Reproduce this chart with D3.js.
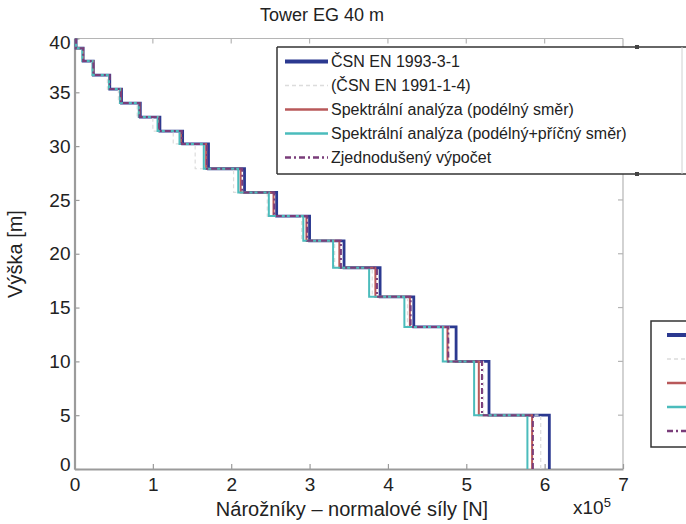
<!DOCTYPE html>
<html><head><meta charset="utf-8">
<script src="https://cdn.jsdelivr.net/npm/d3@7"></script>
<style>
html,body{margin:0;padding:0;background:#fff;}
svg{display:block;font-family:"Liberation Sans",Arial,sans-serif;}
</style></head>
<body>
<svg id="c" width="686" height="524"></svg>
<script>
// Height boundaries of the tower segments [m], bottom to top
const heights = [0, 5, 10, 13.2, 16.0, 18.7, 21.2, 23.5, 25.7, 27.9, 30.2, 31.4, 32.7, 34.0, 35.3, 36.6, 37.9, 39.1, 40];
// Segment values (x10^5 N), bottom segment first
const csn1993 = [6.06, 5.29, 4.87, 4.33, 3.90, 3.44, 3.00, 2.58, 2.17, 1.71, 1.38, 1.09, 0.84, 0.60, 0.45, 0.24, 0.11, 0.02];
const csn1991 = [5.95, 5.22, 4.78, 4.25, 3.80, 3.32, 2.90, 2.46, 2.03, 1.54, 1.26, 1.00, 0.80, 0.56, 0.42, 0.22, 0.10, 0.02];
const spektralPodelny = [5.84, 5.16, 4.76, 4.28, 3.84, 3.38, 2.96, 2.54, 2.12, 1.68, 1.36, 1.07, 0.83, 0.59, 0.44, 0.24, 0.11, 0.02];
const spektralPricny = [5.78, 5.10, 4.70, 4.21, 3.76, 3.30, 2.92, 2.48, 2.09, 1.65, 1.34, 1.06, 0.82, 0.58, 0.44, 0.23, 0.10, 0.02];
const zjednoduseny = [5.85, 5.20, 4.77, 4.29, 3.86, 3.40, 2.97, 2.55, 2.14, 1.69, 1.37, 1.08, 0.83, 0.59, 0.45, 0.24, 0.11, 0.02];
const legendLabels = ["ČSN EN 1993-3-1", "(ČSN EN 1991-1-4)", "Spektrální analýza (podélný směr)", "Spektrální analýza (podélný+příčný směr)", "Zjednodušený výpočet"];
const xTicks = [0, 1, 2, 3, 4, 5, 6, 7];
const yTicks = [0, 5, 10, 15, 20, 25, 30, 35, 40];
const titleText = "Tower EG 40 m";
const xLabel = "Nárožníky – normalové síly [N]";
const yLabel = "Výška [m]";

const series = [
  {vals: csn1993, color: "#2b3990", w: 2.8, dash: null},
  {vals: csn1991, color: "#dcdcdc", w: 1.2, dash: "4,3"},
  {vals: spektralPodelny, color: "#b8585a", w: 2, dash: null},
  {vals: spektralPricny, color: "#4bbcbc", w: 2, dash: null},
  {vals: zjednoduseny, color: "#7a3d7a", w: 2, dash: "6,3,2,3"}
];

const svg = d3.select("#c");
const x = d3.scaleLinear().domain([0, 7]).range([74.5, 623]);
const y = d3.scaleLinear().domain([0, 40]).range([469, 38.5]);
const axisColor = "#9b9b9b";
const textColor = "#222";

// top & right frame
svg.append("line").attr("x1", x(0)).attr("x2", x(7)).attr("y1", y(40)).attr("y2", y(40)).attr("stroke", "#b5b5b5").attr("stroke-width", 1.2);
svg.append("line").attr("x1", x(7)).attr("x2", x(7)).attr("y1", y(40)).attr("y2", y(0)).attr("stroke", "#b5b5b5").attr("stroke-width", 1.2);
// top/right ticks
svg.append("g").selectAll("line").data(xTicks.slice(1, -1)).join("line")
  .attr("x1", d => x(d)).attr("x2", d => x(d)).attr("y1", y(40)).attr("y2", y(40) + 5)
  .attr("stroke", "#b5b5b5").attr("stroke-width", 1.2);
svg.append("g").selectAll("line").data(yTicks.slice(1, -1)).join("line")
  .attr("x1", x(7)).attr("x2", x(7) - 5).attr("y1", d => y(d)).attr("y2", d => y(d))
  .attr("stroke", "#b5b5b5").attr("stroke-width", 1.2);

// axes
const gx = svg.append("g").attr("transform", `translate(0,${y(0)})`)
  .call(d3.axisBottom(x).tickValues(xTicks).tickSizeInner(-5).tickSizeOuter(0).tickPadding(9).tickFormat(d3.format("d")));
const gy = svg.append("g").attr("transform", `translate(${x(0)},0)`)
  .call(d3.axisLeft(y).tickValues(yTicks).tickSizeInner(-5).tickSizeOuter(0).tickPadding(4).tickFormat(d3.format("d")));
[gx, gy].forEach(g => {
  g.select(".domain").attr("stroke", axisColor).attr("stroke-width", 2.2);
  g.selectAll(".tick line").attr("stroke", axisColor).attr("stroke-width", 1.2);
  g.selectAll(".tick text").attr("fill", textColor).style("font-size", "19px").style("font-family", "Liberation Sans, Arial, sans-serif");
});
gy.selectAll(".tick text").attr("dy", d => d === 0 ? "0.1em" : (d === 40 ? "0.5em" : "0.32em"));

// step lines
const line = d3.line().x(d => x(d[0])).y(d => y(d[1]));
function stepPoints(vals) {
  const pts = [];
  for (let i = 0; i < vals.length; i++) {
    pts.push([vals[i], heights[i]]);
    pts.push([vals[i], heights[i + 1]]);
  }
  return pts;
}
series.forEach(s => {
  svg.append("path").attr("d", line(stepPoints(s.vals)))
    .attr("fill", "none").attr("stroke", s.color).attr("stroke-width", s.w)
    .attr("stroke-dasharray", s.dash).attr("stroke-linejoin", "miter");
});

// Legend 1
const lg = svg.append("g");
lg.append("rect").attr("x", 277).attr("y", 47).attr("width", 405).attr("height", 127).attr("fill", "#fff").attr("stroke", "none");
lg.append("line").attr("x1", 277).attr("x2", 686).attr("y1", 47).attr("y2", 47).attr("stroke", "#333").attr("stroke-width", 1.5);
lg.append("line").attr("x1", 277).attr("x2", 686).attr("y1", 174).attr("y2", 174).attr("stroke", "#333").attr("stroke-width", 1.5);
lg.append("line").attr("x1", 277).attr("x2", 277).attr("y1", 47).attr("y2", 174).attr("stroke", "#333").attr("stroke-width", 1.5);
lg.append("line").attr("x1", 682).attr("x2", 682).attr("y1", 47).attr("y2", 174).attr("stroke", "#d0d0d0").attr("stroke-width", 1);
lg.append("rect").attr("x", 635).attr("y", 45).attr("width", 4).attr("height", 4).attr("fill", "#444");
lg.append("rect").attr("x", 635).attr("y", 172).attr("width", 4).attr("height", 4).attr("fill", "#444");
series.forEach((s, i) => {
  const yy = 61.5 + 24 * i;
  lg.append("line").attr("x1", 285).attr("x2", 328).attr("y1", yy).attr("y2", yy)
    .attr("stroke", s.color).attr("stroke-width", i === 0 ? 4 : s.w + 0.5).attr("stroke-dasharray", s.dash);
  lg.append("text").attr("x", 331).attr("y", yy).attr("dy", "0.36em").attr("fill", textColor)
    .style("font-size", "16px").text(legendLabels[i]);
});

// Legend 2 (partially visible at right edge)
const lg2 = svg.append("g");
lg2.append("rect").attr("x", 651).attr("y", 321).attr("width", 60).attr("height", 126).attr("fill", "#fff").attr("stroke", "#333").attr("stroke-width", 1.5);
series.forEach((s, i) => {
  const yy = 335 + 24 * i;
  lg2.append("line").attr("x1", 667).attr("x2", 700).attr("y1", yy).attr("y2", yy)
    .attr("stroke", s.color).attr("stroke-width", i === 0 ? 4 : s.w + 0.5).attr("stroke-dasharray", s.dash);
});

// Titles
svg.append("text").attr("x", 260).attr("y", 21).attr("fill", textColor).style("font-size", "18px").text(titleText);
svg.append("text").attr("x", 352).attr("y", 516).attr("text-anchor", "middle").attr("fill", textColor).style("font-size", "20px").text(xLabel);
svg.append("text").attr("transform", "translate(22,254) rotate(-90)").attr("text-anchor", "middle").attr("fill", textColor).style("font-size", "20px").text(yLabel);
const ex = svg.append("text").attr("x", 573).attr("y", 514).attr("fill", textColor).style("font-size", "19px");
ex.append("tspan").text("x10");
ex.append("tspan").attr("dy", "-7").style("font-size", "13px").text("5");
</script>
</body></html>
